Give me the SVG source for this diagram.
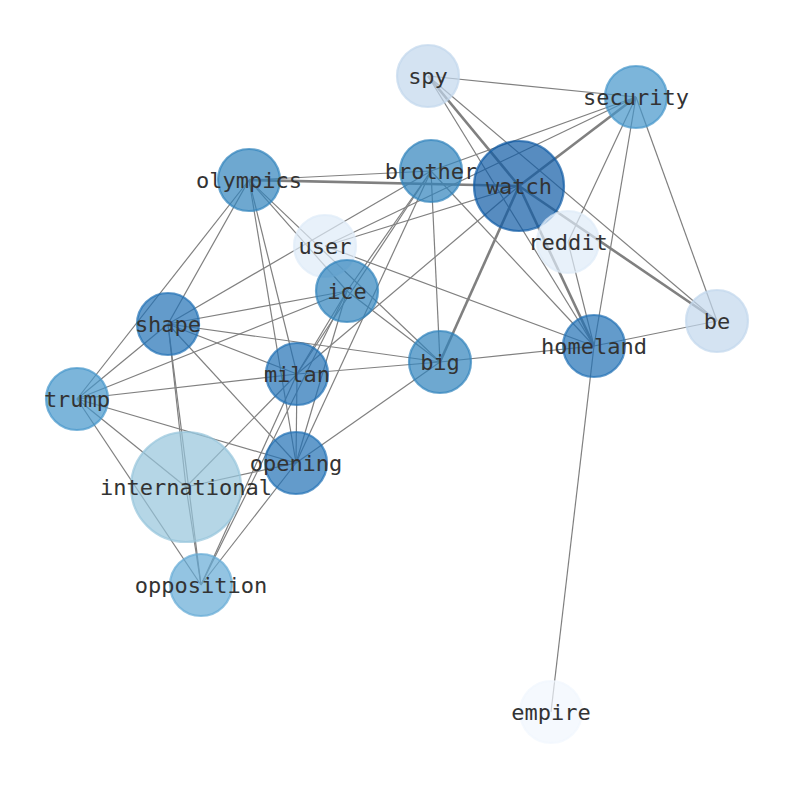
<svg xmlns="http://www.w3.org/2000/svg" width="794" height="790" viewBox="0 0 794 790">
<style>
.e{stroke:#808080;stroke-width:1.2;fill:none}
.t{stroke-width:2.6}
circle{stroke-width:2.2;fill-opacity:0.7;stroke-opacity:0.7}
text{font-family:"DejaVu Sans Mono","Liberation Mono",monospace;font-size:22px;fill:#333;text-anchor:middle;dominant-baseline:central}
.c1{fill:#105ba5;stroke:#105ba5}
.c2{fill:#2171b5;stroke:#2171b5}
.c3{fill:#3083bc;stroke:#3083bc}
.c4{fill:#4595ca;stroke:#4595ca}
.c5{fill:#65abd6;stroke:#65abd6}
.c6{fill:#95c5db;stroke:#95c5db}
.c7{fill:#c2d7ec;stroke:#c2d7ec}
.c8{fill:#deebf8;stroke:#deebf8}
.c9{fill:#f1f7fe;stroke:#f1f7fe}
</style>
<rect width="794" height="790" fill="#fff"/>
<g id="edges">
<line class="e t" x1="428" y1="76" x2="519" y2="186"/>
<line class="e t" x1="249" y1="180" x2="519" y2="186"/>
<line class="e t" x1="519" y1="186" x2="636" y2="97"/>
<line class="e t" x1="519" y1="186" x2="717" y2="321"/>
<line class="e t" x1="519" y1="186" x2="594" y2="346"/>
<line class="e t" x1="519" y1="186" x2="440" y2="362"/>
<line class="e" x1="428" y1="76" x2="636" y2="97"/>
<line class="e" x1="428" y1="76" x2="594" y2="346"/>
<line class="e" x1="428" y1="76" x2="717" y2="321"/>
<line class="e" x1="636" y1="97" x2="431" y2="171"/>
<line class="e" x1="636" y1="97" x2="325" y2="246"/>
<line class="e" x1="636" y1="97" x2="568" y2="242"/>
<line class="e" x1="636" y1="97" x2="594" y2="346"/>
<line class="e" x1="636" y1="97" x2="717" y2="321"/>
<line class="e" x1="249" y1="180" x2="431" y2="171"/>
<line class="e" x1="249" y1="180" x2="77" y2="399"/>
<line class="e" x1="249" y1="180" x2="168" y2="324"/>
<line class="e" x1="249" y1="180" x2="297" y2="374"/>
<line class="e" x1="249" y1="180" x2="296" y2="463"/>
<line class="e" x1="249" y1="180" x2="347" y2="291"/>
<line class="e" x1="249" y1="180" x2="440" y2="362"/>
<line class="e" x1="431" y1="171" x2="168" y2="324"/>
<line class="e" x1="431" y1="171" x2="440" y2="362"/>
<line class="e" x1="431" y1="171" x2="594" y2="346"/>
<line class="e" x1="431" y1="171" x2="297" y2="374"/>
<line class="e" x1="431" y1="171" x2="296" y2="463"/>
<line class="e" x1="431" y1="171" x2="347" y2="291"/>
<line class="e" x1="519" y1="186" x2="325" y2="246"/>
<line class="e" x1="519" y1="186" x2="297" y2="374"/>
<line class="e" x1="325" y1="246" x2="594" y2="346"/>
<line class="e" x1="568" y1="242" x2="594" y2="346"/>
<line class="e" x1="594" y1="346" x2="717" y2="321"/>
<line class="e" x1="594" y1="346" x2="440" y2="362"/>
<line class="e" x1="594" y1="346" x2="551" y2="712"/>
<line class="e" x1="347" y1="291" x2="168" y2="324"/>
<line class="e" x1="347" y1="291" x2="77" y2="399"/>
<line class="e" x1="347" y1="291" x2="297" y2="374"/>
<line class="e" x1="347" y1="291" x2="296" y2="463"/>
<line class="e" x1="347" y1="291" x2="201" y2="585"/>
<line class="e" x1="347" y1="291" x2="440" y2="362"/>
<line class="e" x1="168" y1="324" x2="77" y2="399"/>
<line class="e" x1="168" y1="324" x2="440" y2="362"/>
<line class="e" x1="168" y1="324" x2="297" y2="374"/>
<line class="e" x1="168" y1="324" x2="296" y2="463"/>
<line class="e" x1="168" y1="324" x2="186" y2="487"/>
<line class="e" x1="168" y1="324" x2="201" y2="585"/>
<line class="e" x1="77" y1="399" x2="297" y2="374"/>
<line class="e" x1="77" y1="399" x2="296" y2="463"/>
<line class="e" x1="77" y1="399" x2="186" y2="487"/>
<line class="e" x1="77" y1="399" x2="201" y2="585"/>
<line class="e" x1="297" y1="374" x2="440" y2="362"/>
<line class="e" x1="297" y1="374" x2="296" y2="463"/>
<line class="e" x1="297" y1="374" x2="186" y2="487"/>
<line class="e" x1="297" y1="374" x2="201" y2="585"/>
<line class="e" x1="296" y1="463" x2="440" y2="362"/>
<line class="e" x1="296" y1="463" x2="186" y2="487"/>
<line class="e" x1="296" y1="463" x2="201" y2="585"/>
<line class="e" x1="186" y1="487" x2="201" y2="585"/>
</g>
<g id="spy"><circle class="c7" cx="428" cy="76" r="31"/><text x="428" y="76">spy</text></g>
<g id="security"><circle class="c4" cx="636" cy="97" r="31"/><text x="636" y="97">security</text></g>
<g id="olympics"><circle class="c3" cx="249" cy="180" r="31"/><text x="249" y="180">olympics</text></g>
<g id="brother"><circle class="c3" cx="431" cy="171" r="31"/><text x="431" y="171">brother</text></g>
<g id="watch"><circle class="c1" cx="519" cy="186" r="45"/><text x="519" y="186">watch</text></g>
<g id="user"><circle class="c8" cx="325" cy="246" r="31"/><text x="325" y="246">user</text></g>
<g id="reddit"><circle class="c8" cx="568" cy="242" r="31"/><text x="568" y="242">reddit</text></g>
<g id="ice"><circle class="c3" cx="347" cy="291" r="31"/><text x="347" y="291">ice</text></g>
<g id="shape"><circle class="c2" cx="168" cy="324" r="31"/><text x="168" y="324">shape</text></g>
<g id="be"><circle class="c7" cx="717" cy="321" r="31"/><text x="717" y="321">be</text></g>
<g id="homeland"><circle class="c2" cx="594" cy="346" r="31"/><text x="594" y="346">homeland</text></g>
<g id="big"><circle class="c3" cx="440" cy="362" r="31"/><text x="440" y="362">big</text></g>
<g id="milan"><circle class="c2" cx="297" cy="374" r="31"/><text x="297" y="374">milan</text></g>
<g id="trump"><circle class="c4" cx="77" cy="399" r="31"/><text x="77" y="399">trump</text></g>
<g id="opening"><circle class="c2" cx="296" cy="463" r="31"/><text x="296" y="463">opening</text></g>
<g id="international"><circle class="c6" cx="186" cy="487" r="55"/><text x="186" y="487">international</text></g>
<g id="opposition"><circle class="c5" cx="201" cy="585" r="31"/><text x="201" y="585">opposition</text></g>
<g id="empire"><circle class="c9" cx="551" cy="712" r="31"/><text x="551" y="712">empire</text></g>
</svg>
